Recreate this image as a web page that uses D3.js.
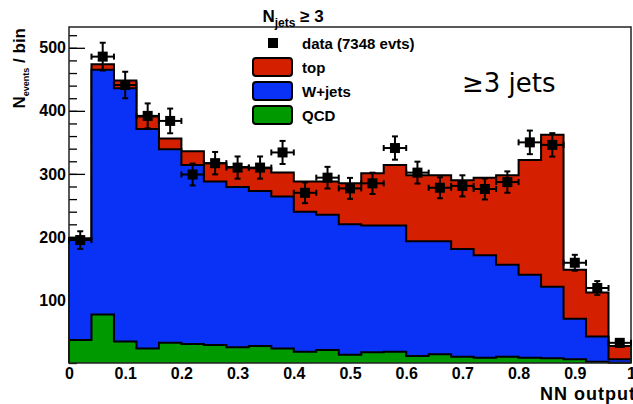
<!DOCTYPE html>
<html>
<head>
<meta charset="utf-8">
<script src="https://cdn.jsdelivr.net/npm/d3@7"></script>
<style>
  body { margin: 0; background: #fff; }
  text { font-family: "Liberation Sans", Arial, sans-serif; }
</style>
</head>
<body>
<div id="chart"></div>
<script>
// NN output bins: 25 bins of width 0.04 on [0, 1]
const binEdges = d3.range(26).map(i => +(i * 0.04).toFixed(2));

// stacked backgrounds + signal, events per bin
const qcd = [36.5, 77, 34, 23, 32, 30, 28.5, 25, 27, 23, 18, 20.5, 13,
             17, 18, 11, 14, 10, 8.5, 10, 8.5, 7.5, 6, 2, 0.5];
const wjets = [159.5, 388, 402, 348, 307, 284, 259.5, 254, 246, 241, 222, 214.5, 207,
               201, 200, 182, 179, 171, 162.5, 146, 131.5, 113.5, 64, 40, 5.5];
const topQuark = [2, 9, 12, 20, 17, 22, 29, 32, 36, 38, 48, 53, 65,
                  83, 96, 105, 105, 109, 123, 142, 182, 241, 78, 70, 21];

// observed events
const dataCounts = [195, 486, 441, 392, 384, 299, 317, 310, 310, 334, 270, 294, 277,
                    285, 341, 302, 278, 281, 276, 287, 350, 346, 159, 119, 32];

const xTicks = [0, 0.1, 0.2, 0.3, 0.4, 0.5, 0.6, 0.7, 0.8, 0.9, 1];
const xTickLabels = ["0", "0.1", "0.2", "0.3", "0.4", "0.5", "0.6", "0.7", "0.8", "0.9", "1"];
const yTicks = [100, 200, 300, 400, 500];
const yMinorTicks = d3.range(0, 540, 20);

const legendItems = [
  { key: "top", label: "top", color: "#d42000" },
  { key: "wjets", label: "W+jets", color: "#0a32f6" },
  { key: "qcd", label: "QCD", color: "#009a00" }
];

class StackHist {
  constructor (el) {
    this.w = 633;
    this.h = 404;
    this.left = 69;
    this.right = 631;
    this.top = 27;
    this.bottom = 363;
    this.el = el;
  }

  render () {
    this.svg = d3.select("#" + this.el)
      .append("svg")
      .attr("width", this.w)
      .attr("height", this.h);

    this.x = d3.scaleLinear().domain([0, 1]).range([this.left, this.right]);
    this.y = d3.scaleLinear().domain([0, 533]).range([this.bottom, this.top]);

    this.addTicks();
    this.addFills();
    this.addFrame();
    this.addData();
    this.addLegend();
    this.addTitles();
  }

  addTicks () {
    // y ticks point into the frame, fills drawn afterwards hide them
    this.svg.append("g")
      .attr("transform", `translate(${this.left},0)`)
      .call(d3.axisLeft(this.y).tickValues(yMinorTicks).tickSize(-8).tickFormat(""))
      .call(g => g.select(".domain").remove())
      .call(g => g.selectAll("line").attr("stroke", "#000").attr("stroke-width", 1.3));

    let yAxis = this.svg.append("g")
      .attr("transform", `translate(${this.left},0)`)
      .call(d3.axisLeft(this.y).tickValues(yTicks).tickSize(-16).tickPadding(3));
    yAxis.select(".domain").remove();
    yAxis.selectAll("line").attr("stroke", "#000").attr("stroke-width", 1.3);
    yAxis.selectAll("text")
      .attr("font-size", 16)
      .attr("font-weight", "bold")
      .attr("fill", "#000")
      .style("font-family", "'Liberation Sans', Arial, sans-serif");

    let xAxis = this.svg.append("g")
      .attr("transform", `translate(0,${this.bottom})`)
      .call(d3.axisBottom(this.x).tickValues(xTicks).tickSize(-16).tickPadding(5)
        .tickFormat((d, i) => xTickLabels[i]));
    xAxis.select(".domain").remove();
    xAxis.selectAll("line").attr("stroke", "#000");
    xAxis.selectAll("text")
      .attr("font-size", 16)
      .attr("font-weight", "bold")
      .attr("fill", "#000")
      .style("font-family", "'Liberation Sans', Arial, sans-serif");
  }

  stepPoints (values) {
    // doubled points so each bin is a flat step
    let pts = [{ x: 0, v: 0 }];
    values.forEach((v, i) => {
      pts.push({ x: binEdges[i], v: v });
      pts.push({ x: binEdges[i + 1], v: v });
    });
    pts.push({ x: 1, v: 0 });
    return pts;
  }

  addFills () {
    let rows = binEdges.slice(0, -1).map((e, i) => ({ qcd: qcd[i], wjets: wjets[i], top: topQuark[i] }));
    let stack = d3.stack().keys(["qcd", "wjets", "top"])(rows);

    let area = d3.area()
      .x(d => this.x(d.x))
      .y0(this.y(0))
      .y1(d => this.y(d.v));
    let line = d3.line()
      .x(d => this.x(d.x))
      .y(d => this.y(d.v));

    // ROOT style stack: draw cumulative sums from the biggest down
    let order = ["top", "wjets", "qcd"];
    order.forEach(key => {
      let layer = stack.find(s => s.key === key);
      let cum = layer.map(d => d[1]);
      let pts = this.stepPoints(cum);
      let color = legendItems.find(l => l.key === key).color;
      this.svg.append("path")
        .attr("d", area(pts))
        .attr("fill", color);
      this.svg.append("path")
        .attr("d", line(pts))
        .attr("fill", "none")
        .attr("stroke", "#000")
        .attr("stroke-width", 2);
    });
  }

  addFrame () {
    this.svg.append("rect")
      .attr("x", this.left)
      .attr("y", this.top)
      .attr("width", this.right - this.left)
      .attr("height", this.bottom - this.top)
      .attr("fill", "none")
      .attr("stroke", "#222")
      .attr("stroke-width", 1.5);
  }

  addData () {
    let pts = dataCounts.map((n, i) => ({
      lo: binEdges[i],
      hi: binEdges[i + 1],
      c: (binEdges[i] + binEdges[i + 1]) / 2,
      n: n,
      err: Math.sqrt(n)
    }));

    let g = this.svg.append("g")
      .attr("stroke", "#000")
      .attr("stroke-width", 2);

    let pt = g.selectAll(".dataPt")
      .data(pts)
      .enter().append("g")
      .attr("class", "dataPt");

    pt.append("line")
      .attr("x1", d => this.x(d.c)).attr("x2", d => this.x(d.c))
      .attr("y1", d => this.y(d.n - d.err)).attr("y2", d => this.y(d.n + d.err));
    pt.append("line")
      .attr("x1", d => this.x(d.lo)).attr("x2", d => this.x(d.hi))
      .attr("y1", d => this.y(d.n)).attr("y2", d => this.y(d.n));

    // end caps
    [d => d.n - d.err, d => d.n + d.err].forEach(fn => {
      pt.append("line")
        .attr("x1", d => this.x(d.c) - 3).attr("x2", d => this.x(d.c) + 3)
        .attr("y1", d => this.y(fn(d))).attr("y2", d => this.y(fn(d)));
    });
    ["lo", "hi"].forEach(k => {
      pt.append("line")
        .attr("x1", d => this.x(d[k])).attr("x2", d => this.x(d[k]))
        .attr("y1", d => this.y(d.n) - 3).attr("y2", d => this.y(d.n) + 3);
    });

    pt.append("rect")
      .attr("x", d => this.x(d.c) - 5)
      .attr("y", d => this.y(d.n) - 5)
      .attr("width", 10)
      .attr("height", 10)
      .attr("fill", "#000")
      .attr("stroke", "none");
  }

  addLegend () {
    let lg = this.svg.append("g");

    lg.append("rect")
      .attr("x", 268).attr("y", 38)
      .attr("width", 10).attr("height", 10)
      .attr("fill", "#000");
    lg.append("text")
      .attr("x", 302).attr("y", 49)
      .attr("font-size", 15).attr("font-weight", "bold")
      .text("data (7348 evts)");

    let rows = lg.selectAll(".legRow")
      .data(legendItems)
      .enter().append("g")
      .attr("class", "legRow")
      .attr("transform", (d, i) => `translate(0,${73 + i * 24})`);

    rows.append("rect")
      .attr("x", 253).attr("y", -15)
      .attr("width", 39).attr("height", 18)
      .attr("rx", 3)
      .attr("fill", d => d.color)
      .attr("stroke", "#000")
      .attr("stroke-width", 2);
    rows.append("text")
      .attr("x", 302).attr("y", 0)
      .attr("font-size", 15).attr("font-weight", "bold")
      .text(d => d.label);

    this.svg.append("text")
      .attr("x", 462).attr("y", 92)
      .attr("font-size", 26)
      .style("font-family", "'DejaVu Sans', sans-serif")
      .text("≥3 jets");
  }

  addTitles () {
    let title = this.svg.append("text")
      .attr("x", 293).attr("y", 22)
      .attr("text-anchor", "middle")
      .attr("font-size", 17)
      .attr("font-weight", "bold");
    title.append("tspan").text("N");
    title.append("tspan").attr("font-size", 12).attr("dy", 5).text("jets");
    title.append("tspan").attr("dy", -5).text(" ≥ 3");

    let yTitle = this.svg.append("text")
      .attr("transform", "translate(25,28) rotate(-90)")
      .attr("text-anchor", "end")
      .attr("font-size", 17)
      .attr("font-weight", "bold");
    yTitle.append("tspan").text("N");
    yTitle.append("tspan").attr("font-size", 9).attr("dy", 4).text("events");
    yTitle.append("tspan").attr("dy", -4).text(" / bin");

    this.svg.append("text")
      .attr("x", 636).attr("y", 400)
      .attr("text-anchor", "end")
      .attr("font-size", 18)
      .attr("font-weight", "bold")
      .attr("letter-spacing", 1)
      .text("NN output");
  }
}

new StackHist("chart").render();
</script>
</body>
</html>
